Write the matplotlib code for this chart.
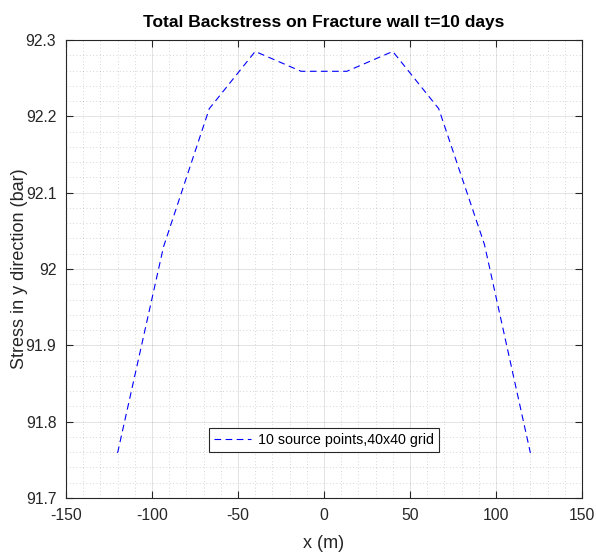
import numpy as np
import matplotlib
matplotlib.use("Agg")
import matplotlib.pyplot as plt
from matplotlib.ticker import MultipleLocator

# data
x_m = [-120, -93.3, -66.7, -40, -13.3, 13.3, 40, 66.7, 93.3, 120]
stress_bar = [91.759, 92.029, 92.210, 92.285, 92.259, 92.259, 92.285, 92.210, 92.032, 91.759]
series_label = '10 source points,40x40 grid'
y_ticks = [91.7, 91.8, 91.9, 92.0, 92.1, 92.2, 92.3]
y_ticklabels = ['91.7', '91.8', '91.9', '92', '92.1', '92.2', '92.3']

plt.rcParams['font.family'] = ['Liberation Sans', 'DejaVu Sans']
plt.rcParams['axes.unicode_minus'] = False
axis_col = '#262626'

fig = plt.figure(figsize=(5.96, 5.57), dpi=100)
ax = fig.add_axes([0.1107, 0.1059, 0.8658, 0.8223])

ax.plot(x_m, stress_bar, color='#0000ff', lw=0.8, dashes=(6, 4), label=series_label)

ax.set_xlim(-150, 150)
ax.set_ylim(91.7, 92.3)
ax.xaxis.set_major_locator(MultipleLocator(50))
ax.xaxis.set_minor_locator(MultipleLocator(10))
ax.yaxis.set_minor_locator(MultipleLocator(0.02))
ax.set_yticks(y_ticks)
ax.set_yticklabels(y_ticklabels)

ax.grid(True, which='major', color='#262626', alpha=0.15, lw=0.6)
ax.grid(True, which='minor', color='#262626', alpha=0.25, lw=0.6, ls=(0, (1, 3)))
ax.set_axisbelow(True)

ax.tick_params(which='major', direction='in', length=5, width=0.8, top=True, right=True,
               colors=axis_col, labelsize=11.3, pad=7)
ax.tick_params(which='minor', length=0, top=True, right=True)
for s in ax.spines.values():
    s.set_color(axis_col)
    s.set_linewidth(0.8)

ax.set_xlabel('x (m)', fontsize=13, color=axis_col)
ax.xaxis.set_label_coords(0.5, -0.08)
ax.set_ylabel('Stress in y direction (bar)', fontsize=13, color=axis_col)
ax.yaxis.set_label_coords(-0.074, 0.5)
ax.set_title('Total Backstress on Fracture wall t=10 days', fontsize=12.5,
             fontweight='bold', pad=9)

leg = ax.legend(loc='lower center', bbox_to_anchor=(0.5, 0.085), fontsize=10.3,
                frameon=True, fancybox=False, framealpha=1, edgecolor='#262626',
                handlelength=2.6, borderpad=0.35, handletextpad=0.5)
leg.get_frame().set_linewidth(0.8)

fig.savefig('out.png', dpi=100)
